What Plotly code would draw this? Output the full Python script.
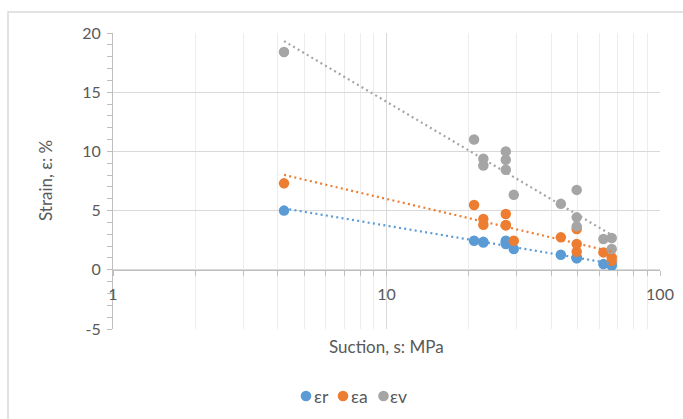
import numpy as np
import plotly.graph_objects as go

# Suction (MPa) for each specimen and the three strain components (%)
suction = [4.22, 20.9, 22.6, 22.6, 27.3, 27.3, 27.3, 29.2, 43.4, 49.6, 49.6, 49.6, 62.1, 66.6, 66.6]
strain_r = [5.0, 2.46, 2.36, 2.30, 2.46, 2.30, 2.18, 1.75, 1.27, 1.04, 1.00, 0.98, 0.48, 0.48, 0.35]
strain_a = [7.3, 5.48, 4.30, 3.81, 4.72, 3.79, 3.75, 2.46, 2.74, 3.45, 2.18, 1.53, 1.47, 1.05, 0.76]
strain_v = [18.4, 11.0, 9.38, 8.81, 10.0, 9.30, 8.45, 6.33, 5.57, 6.75, 4.43, 3.67, 2.60, 2.69, 1.75]

series_names = ["εr", "εa", "εv"]
series_colors = ["#5B9BD5", "#ED7D31", "#A5A5A5"]

x_ticks = [1, 10, 100]
x_minor = [2, 3, 4, 5, 6, 7, 8, 9, 20, 30, 40, 50, 60, 70, 80, 90]
y_ticks = [-5, 0, 5, 10, 15, 20]

FONT = "Lato"
TXT = "#595959"
AXIS = "#BFBFBF"
GRID = "#D9D9D9"

W, H = 683, 419
L, R, T, B = 113, 23, 33, 90
PW, PH = W - L - R, H - T - B


def px_x(p):
    return (p - L) / PW


def px_y(p):
    return (H - B - p) / PH


fig = go.Figure()

series = [strain_r, strain_a, strain_v]
for name, col, ys in zip(series_names, series_colors, series):
    fig.add_trace(go.Scatter(
        x=suction, y=ys, mode="markers", name=name, showlegend=False,
        marker=dict(color=col, size=10.5, line=dict(width=0)),
    ))

# Logarithmic trendlines y = a*ln(s) + b fitted to each series
s_arr = np.array(suction)
xs = np.array([s_arr.min(), s_arr.max()])
for col, ys in zip(series_colors, series):
    a, b = np.polyfit(np.log(s_arr), np.array(ys), 1)
    fig.add_trace(go.Scatter(
        x=xs, y=a * np.log(xs) + b, mode="lines", showlegend=False,
        hoverinfo="skip",
        line=dict(color=col, width=2.2, dash="2px,3.3px"),
    ))

# Chart frame, axis titles and a legend row of dots and labels
shapes = [
    dict(type="rect", xref="paper", yref="paper", x0=px_x(8), x1=2,
         y0=-2, y1=px_y(12), line=dict(color="#D9D9D9", width=1.5),
         fillcolor="rgba(0,0,0,0)", layer="below"),
]
annotations = [
    dict(text="Suction, s: MPa", xref="paper", yref="paper", x=0.5, y=px_y(346),
         xanchor="center", yanchor="middle", showarrow=False,
         font=dict(size=17, color=TXT)),
    dict(text="Strain, ε: %", xref="paper", yref="paper", x=px_x(45), y=0.5,
         xanchor="center", yanchor="middle", showarrow=False, textangle=-90,
         font=dict(size=17, color=TXT)),
]
legend_dot_x = [306, 343, 383.5]
legend_text_x = [312, 349, 388]
legend_y = 396
for name, col, dx, tx in zip(series_names, series_colors, legend_dot_x, legend_text_x):
    shapes.append(dict(type="circle", xref="paper", yref="paper",
                       xsizemode="pixel", ysizemode="pixel",
                       xanchor=px_x(dx), yanchor=px_y(legend_y),
                       x0=-5.3, x1=5.3, y0=-5.3, y1=5.3,
                       fillcolor=col, line=dict(width=0)))
    annotations.append(dict(text=name, xref="paper", yref="paper", x=px_x(tx),
                            y=px_y(legend_y), xanchor="left", yanchor="middle",
                            showarrow=False, font=dict(size=17.5, color=TXT)))

fig.update_layout(
    width=W, height=H,
    margin=dict(l=L, r=R, t=T, b=B, autoexpand=False),
    paper_bgcolor="white", plot_bgcolor="white",
    font=dict(family=FONT, color=TXT, size=16),
    showlegend=False,
    xaxis=dict(
        type="log", range=[0, 2], tickvals=x_ticks, ticktext=[str(v) for v in x_ticks],
        showgrid=True, gridcolor=GRID, gridwidth=1,
        ticks="outside", ticklen=5, tickcolor=AXIS,
        showline=True, linecolor=AXIS, linewidth=1,
        anchor="free", position=0.2, zeroline=False,
        ticklabelstandoff=5,
        minor=dict(tickvals=x_minor, ticks="outside", ticklen=5, tickcolor=AXIS,
                   showgrid=True, gridcolor="#EDEDED", gridwidth=1),
        tickfont=dict(size=16, color=TXT),
    ),
    yaxis=dict(
        range=[-5, 20], tickvals=y_ticks, ticktext=[str(v) for v in y_ticks],
        showgrid=True, gridcolor=GRID, gridwidth=1,
        ticks="outside", ticklen=5, tickcolor=AXIS,
        showline=True, linecolor=AXIS, linewidth=1, zeroline=False,
        ticklabelstandoff=3,
        minor=dict(dtick=1, ticks="outside", ticklen=5, tickcolor=AXIS, showgrid=False),
        tickfont=dict(size=16, color=TXT),
    ),
    annotations=annotations,
    shapes=shapes,
)

fig.write_html("out.html")
